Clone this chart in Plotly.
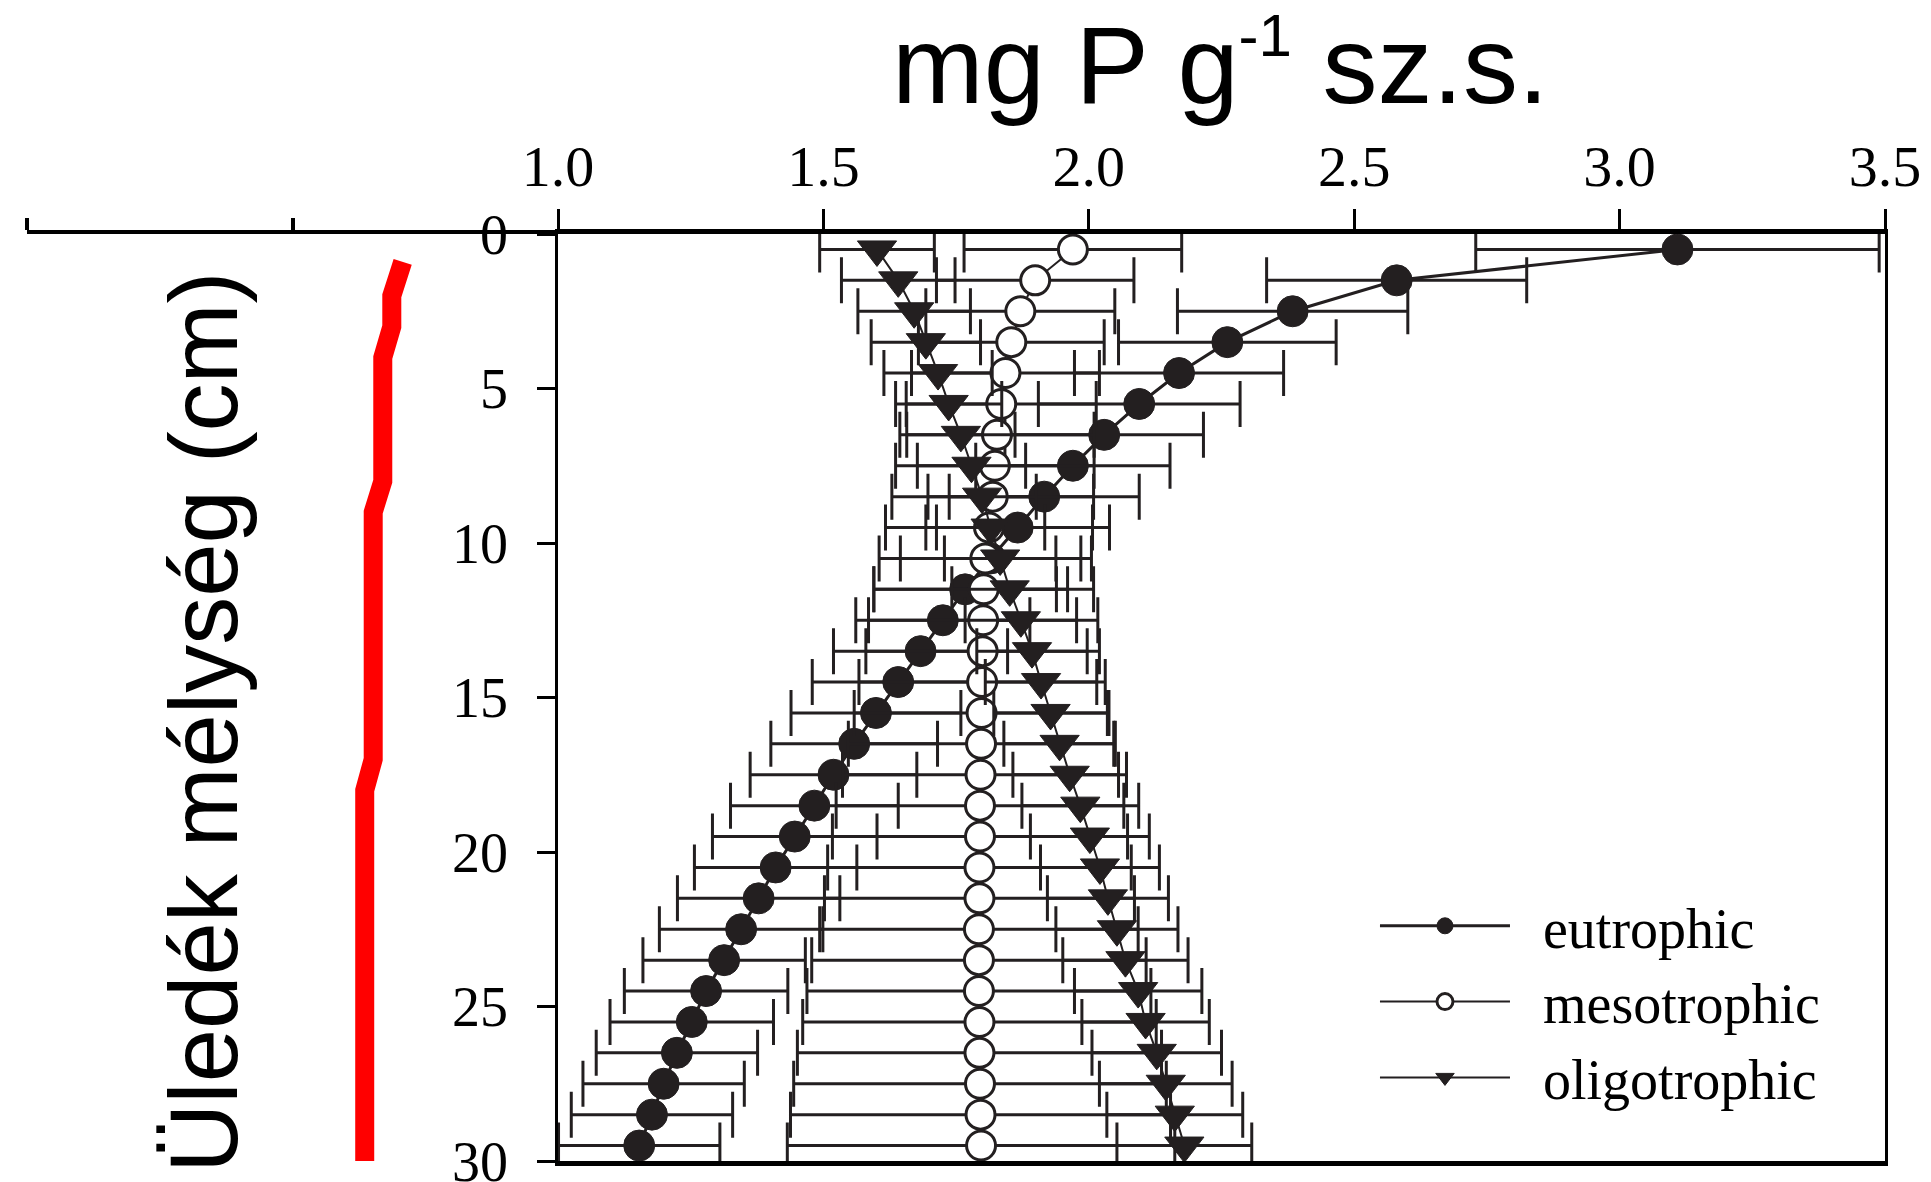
import plotly.graph_objects as go

# ---------------- data ----------------
depth = [0.5, 1.5, 2.5, 3.5, 4.5, 5.5, 6.5, 7.5, 8.5, 9.5,
         10.5, 11.5, 12.5, 13.5, 14.5, 15.5, 16.5, 17.5, 18.5, 19.5,
         20.5, 21.5, 22.5, 23.5, 24.5, 25.5, 26.5, 27.5, 28.5, 29.5]

eutrophic = [3.109, 2.580, 2.384, 2.261, 2.170, 2.095, 2.029, 1.970, 1.916, 1.866,
             1.815, 1.767, 1.725, 1.683, 1.641, 1.599, 1.558, 1.519, 1.483, 1.446,
             1.410, 1.378, 1.345, 1.313, 1.279, 1.252, 1.224, 1.199, 1.177, 1.153]
eutrophic_err = [0.380, 0.245, 0.217, 0.205, 0.197, 0.190, 0.187, 0.183, 0.179, 0.173,
                 0.170, 0.172, 0.164, 0.164, 0.162, 0.160, 0.157, 0.157, 0.158, 0.155,
                 0.153, 0.153, 0.154, 0.153, 0.154, 0.154, 0.152, 0.152, 0.152, 0.152]

mesotrophic = [1.970, 1.899, 1.871, 1.854, 1.843, 1.835, 1.827, 1.823, 1.819, 1.812,
               1.805, 1.802, 1.801, 1.800, 1.799, 1.798, 1.797, 1.796, 1.795, 1.795,
               1.794, 1.794, 1.793, 1.793, 1.793, 1.794, 1.794, 1.795, 1.796, 1.797]
mesotrophic_err = [0.205, 0.186, 0.178, 0.175, 0.177, 0.179, 0.183, 0.187, 0.190, 0.195,
                   0.200, 0.207, 0.216, 0.220, 0.232, 0.240, 0.250, 0.260, 0.271, 0.278,
                   0.286, 0.292, 0.300, 0.315, 0.324, 0.333, 0.343, 0.351, 0.358, 0.365]

oligotrophic = [1.601, 1.641, 1.671, 1.693, 1.716, 1.736, 1.759, 1.779, 1.799, 1.815,
                1.833, 1.851, 1.872, 1.893, 1.910, 1.928, 1.945, 1.964, 1.984, 2.002,
                2.021, 2.036, 2.053, 2.069, 2.093, 2.107, 2.128, 2.145, 2.162, 2.180]
oligotrophic_err = [0.108, 0.107, 0.106, 0.103, 0.102, 0.100, 0.102, 0.102, 0.102, 0.102,
                    0.105, 0.109, 0.105, 0.104, 0.105, 0.107, 0.105, 0.107, 0.110, 0.112,
                    0.112, 0.114, 0.115, 0.118, 0.120, 0.120, 0.122, 0.125, 0.128, 0.127]

# red hand-drawn marker line (values on the extended top axis 0..1)
red_x = [0.7075, 0.687, 0.687, 0.670, 0.670, 0.652, 0.652, 0.636, 0.636]
red_depth = [0.9, 2.0, 3.0, 4.0, 8.0, 9.0, 17.0, 18.0, 30.0]

x_ticks = [1.0, 1.5, 2.0, 2.5, 3.0, 3.5]
x_ticklabels = ["1.0", "1.5", "2.0", "2.5", "3.0", "3.5"]
left_ticks = [0.0, 0.5]
y_ticks = [0, 5, 10, 15, 20, 25, 30]
y_ticklabels = ["0", "5", "10", "15", "20", "25", "30"]

series_names = ["eutrophic", "mesotrophic", "oligotrophic"]

# ---------------- figure ----------------
INK = "#231f20"
SERIF = "Liberation Serif, Times New Roman, serif"
SANS = "Liberation Sans, Arial, sans-serif"
PAD = "&nbsp;&nbsp;"

fig = go.Figure()

fig.add_trace(go.Scatter(
    x=red_x, y=red_depth, xaxis="x2", yaxis="y", mode="lines",
    line=dict(color="#ff0000", width=19), showlegend=False, hoverinfo="skip"))


def err(vals):
    return dict(type="data", array=vals, visible=True, color=INK, thickness=3, width=23)


fig.add_trace(go.Scatter(
    x=eutrophic, y=depth, name=PAD + series_names[0], mode="lines+markers",
    line=dict(color=INK, width=3),
    marker=dict(symbol="circle", size=31, color=INK, line=dict(color=INK, width=1)),
    error_x=err(eutrophic_err), cliponaxis=False))

fig.add_trace(go.Scatter(
    x=mesotrophic, y=depth, name=PAD + series_names[1], mode="lines+markers",
    line=dict(color=INK, width=2),
    marker=dict(symbol="circle", size=29, color="white", line=dict(color=INK, width=3)),
    error_x=err(mesotrophic_err), cliponaxis=False))

fig.add_trace(go.Scatter(
    x=oligotrophic, y=depth, name=PAD + series_names[2], mode="lines+markers",
    line=dict(color=INK, width=2),
    marker=dict(symbol="triangle-down", size=34, color=INK, line=dict(color=INK, width=1)),
    error_x=err(oligotrophic_err), cliponaxis=False))

split = (558 - 27) / (1885 - 27)

fig.update_layout(
    width=1931, height=1182,
    margin=dict(l=27, r=46, t=234, b=21, autoexpand=False),
    plot_bgcolor="white", paper_bgcolor="white",
    font=dict(family=SERIF, color="black"),
    title=dict(text="mg P g<sup><span style='font-size:60px'>-1</span></sup> sz.s.",
               font=dict(family=SANS, size=110, color="black"),
               xref="container", yref="container", x=0.632, xanchor="center",
               y=1 - 64 / 1182, yanchor="middle"),
    xaxis=dict(domain=[split, 1], range=[1.0, 3.5], side="top", anchor="y",
               tickvals=x_ticks, ticktext=x_ticklabels, ticks="outside", ticklen=20,
               tickwidth=3, tickcolor="black", showline=True, linewidth=5, linecolor="black",
               mirror=True, showgrid=False, zeroline=False, ticklabeloverflow="allow",
               tickfont=dict(family=SERIF, size=58, color="black"), ticklabelstandoff=0),
    xaxis2=dict(domain=[0, split], range=[0.0, 1.0], side="top", anchor="y",
                tickvals=left_ticks, ticks="outside", ticklen=12, tickwidth=4,
                tickcolor="black", showticklabels=False, showline=True, linewidth=4,
                linecolor="black", showgrid=False, zeroline=False),
    yaxis=dict(range=[30, 0], anchor="x", tickvals=y_ticks, ticktext=y_ticklabels,
               ticks="outside", ticklen=18, tickwidth=3, tickcolor="black",
               showline=True, linewidth=2.5, linecolor="black", mirror=True,
               showgrid=False, zeroline=False, ticklabeloverflow="allow",
               tickfont=dict(family=SERIF, size=56, color="black"), ticklabelstandoff=18),
    legend=dict(x=0.7255, y=0.30, xanchor="left", yanchor="top", xref="paper", yref="paper",
                bgcolor="rgba(0,0,0,0)", borderwidth=0, itemwidth=130,
                font=dict(family=SERIF, size=56, color="black"), tracegroupgap=0),
    annotations=[dict(text="Üledék mélység (cm)", xref="paper", yref="paper",
                      x=(203 - 27) / 1858, y=(1161 - 722) / 927, textangle=-90,
                      showarrow=False, xanchor="center", yanchor="middle",
                      font=dict(family=SANS, size=96, color="black"))],
)

fig.write_html("out.html")
